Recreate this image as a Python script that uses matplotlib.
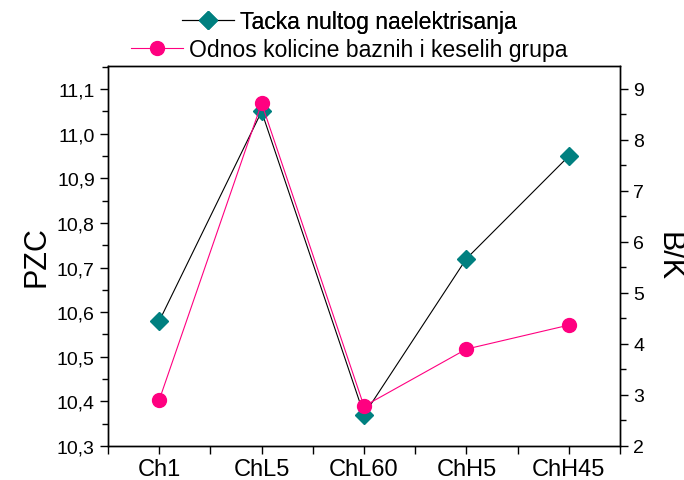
import matplotlib
matplotlib.use("Agg")
import matplotlib.pyplot as plt
from matplotlib.ticker import FuncFormatter, MultipleLocator
from matplotlib.lines import Line2D

# data
samples = ["Ch1", "ChL5", "ChL60", "ChH5", "ChH45"]
pzc = [10.58, 11.05, 10.37, 10.72, 10.95]
bk = [2.90, 8.72, 2.78, 3.90, 4.37]

plt.rcParams["font.family"] = ["Liberation Sans", "DejaVu Sans"]

fig = plt.figure(figsize=(6.84, 4.81), dpi=100)
ax = fig.add_axes([108 / 684, 1 - 447 / 481, 512 / 684, 380 / 481])
ax2 = ax.twinx()

x = list(range(len(samples)))

ax.plot(x, pzc, color="black", lw=0.8, marker="D", ms=9.5,
        mfc="#008080", mec="#008080", zorder=3)
ax2.plot(x, bk, color="#FF0080", lw=0.8, marker="o", ms=10,
         mfc="#FF0080", mec="#FF0080", zorder=3)

ax.set_xlim(-0.5, 4.5)
ax.set_ylim(10.3, 11.152)
ax2.set_ylim(2, 9.45)

ax.set_xticks(x)
ax.set_xticklabels(samples)
ax.xaxis.set_minor_locator(MultipleLocator(0.5))
ax.yaxis.set_major_locator(MultipleLocator(0.1))
ax.yaxis.set_minor_locator(MultipleLocator(0.05))
ax2.yaxis.set_major_locator(MultipleLocator(1))
ax2.yaxis.set_minor_locator(MultipleLocator(0.5))
ax.yaxis.set_major_formatter(FuncFormatter(lambda v, p: f"{v:.1f}".replace(".", ",")))

for a in (ax, ax2):
    a.tick_params(which="major", direction="out", length=6, width=1, labelsize=14)
    a.tick_params(which="minor", direction="out", length=4, width=1)
    for s in a.spines.values():
        s.set_linewidth(1)
ax.tick_params(axis="x", which="major", labelsize=17, pad=3)
ax.tick_params(axis="x", which="minor", length=6)

ax.set_ylabel("PZC", fontsize=22, labelpad=4)
ax2.set_ylabel("B/K", fontsize=22, rotation=270, labelpad=28)

# legend: two rows, each centred on its own
h1 = Line2D([], [], color="black", lw=0.8, marker="D", ms=9.5,
            mfc="#008080", mec="#008080")
h2 = Line2D([], [], color="#FF0080", lw=0.8, marker="o", ms=10,
            mfc="#FF0080", mec="#FF0080")
leg1 = fig.legend([h1], ["Tacka nultog naelektrisanja"], loc="center",
                  bbox_to_anchor=(0.511, 1 - 23 / 481), frameon=False,
                  fontsize=16.6, handlelength=2.25, handletextpad=0.28,
                  borderpad=0, borderaxespad=0)
fig.legend([h2], ["Odnos kolicine baznih i keselih grupa"], loc="center",
           bbox_to_anchor=(0.511, 1 - 51 / 481), frameon=False,
           fontsize=16.6, handlelength=2.25, handletextpad=0.28,
           borderpad=0, borderaxespad=0)
fig.add_artist(leg1)

fig.savefig("out.png", dpi=100)
